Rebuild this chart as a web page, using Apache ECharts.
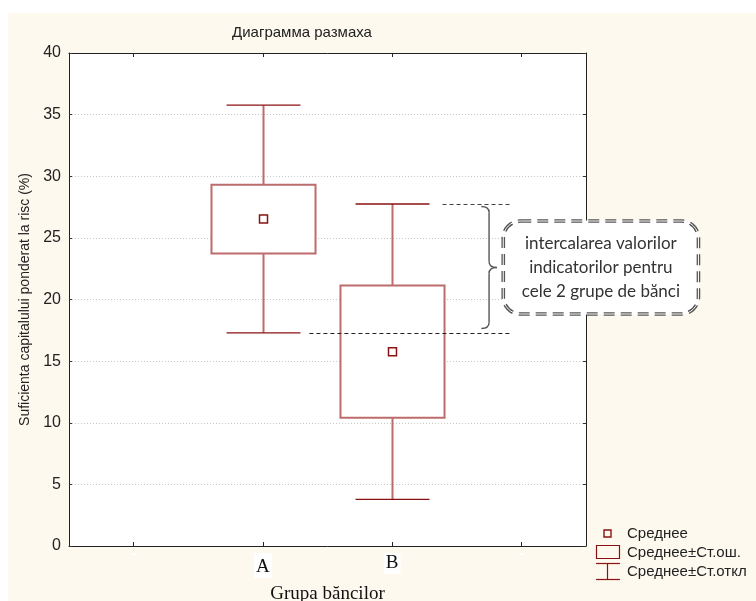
<!DOCTYPE html>
<html>
<head>
<meta charset="utf-8">
<script src="https://cdn.jsdelivr.net/npm/echarts@6/dist/echarts.min.js"></script>
<style>
  html, body { margin: 0; padding: 0; background: #fff; }
  #chart { width: 756px; height: 601px; }
</style>
</head>
<body>
<div id="chart"></div>
<script>
// Category slots on the x axis (outer slots stay empty, as in the original layout)
const categories = ['', 'A', 'B', ''];
// Bank groups and their statistics
const groups = ['A', 'B'];
const means = [26.53, 15.77];
const stdErrors = [2.79, 5.37];
const stdDevs = [9.24, 11.98];
// Value axis
const yMin = 0, yMax = 40, yStep = 5;

const titleText = 'Диаграмма размаха';
const yTitle = 'Suficienta capitalului ponderat la risc (%)';
const xTitle = 'Grupa băncilor';
const noteText = 'intercalarea valorilor\nindicatorilor pentru\ncele 2 grupe de bănci';
const legendItems = ['Среднее', 'Среднее±Ст.ош.', 'Среднее±Ст.откл'];

const DARK_RED = '#8b1212';
const SOFT_RED = '#bd6c6c';
const SANS = '"Liberation Sans", Arial, sans-serif';
const SERIF = '"Liberation Serif", "Times New Roman", serif';

const boxData = groups.map((g, i) => [categories.indexOf(g), means[i], stdErrors[i], stdDevs[i]]);

// Overlap band: from the lower whisker end of A to the upper whisker end of B
const overlapData = [[categories.indexOf('B'), means[1] + stdDevs[1], means[0] - stdDevs[0], categories.indexOf('A')]];

function renderBox(params, api) {
  const x = api.value(0), m = api.value(1), se = api.value(2), sd = api.value(3);
  const band = api.size([1, 0])[0];
  const cx = Math.round(api.coord([x, m])[0]) + 0.5;
  const yTop = api.coord([x, m + sd])[1];
  const yBot = api.coord([x, m - sd])[1];
  const yBoxTop = api.coord([x, m + se])[1];
  const yBoxBot = api.coord([x, m - se])[1];
  const ym = api.coord([x, m])[1];
  const bw = band * 0.805, cw = band * 0.572;
  const soft = { stroke: SOFT_RED, lineWidth: 2, fill: null };
  const dark = { stroke: DARK_RED, lineWidth: 1.3, fill: null };
  return {
    type: 'group',
    children: [
      { type: 'line', shape: { x1: cx, y1: yTop, x2: cx, y2: yBoxTop }, style: soft },
      { type: 'line', shape: { x1: cx, y1: yBoxBot, x2: cx, y2: yBot }, style: soft },
      { type: 'rect', shape: { x: cx - bw / 2, y: yBoxTop, width: bw, height: yBoxBot - yBoxTop }, style: { stroke: SOFT_RED, lineWidth: 2, fill: '#fff' } },
      { type: 'line', shape: { x1: cx - cw / 2, y1: yTop, x2: cx + cw / 2, y2: yTop }, style: dark },
      { type: 'line', shape: { x1: cx - cw / 2, y1: yBot, x2: cx + cw / 2, y2: yBot }, style: dark },
      { type: 'rect', shape: { x: cx - 4, y: ym - 4, width: 8, height: 8 }, style: { stroke: DARK_RED, lineWidth: 1.5, fill: '#fff' } }
    ]
  };
}

function renderOverlap(params, api) {
  const xb = api.value(0), hi = api.value(1), lo = api.value(2), xa = api.value(3);
  const band = api.size([1, 0])[0];
  const cb = api.coord([xb, hi])[0];
  const ca = api.coord([xa, lo])[0];
  const yHi = Math.round(api.coord([xb, hi])[1]) + 0.5;
  const yLo = Math.round(api.coord([xb, lo])[1]) + 0.5;
  const xEnd = cb + 0.93 * band;
  const dash = { stroke: '#222', lineWidth: 1, lineDash: [4, 3], fill: null };
  // curly brace
  const xl = cb + 0.69 * band, xs = cb + 0.75 * band, xt = cb + 0.81 * band;
  const y1 = yHi + 2, y2 = yLo - 5, ymid = (y1 + y2) / 2, r = 6;
  const brace = { stroke: '#555', lineWidth: 1.4, fill: null };
  // callout
  const bx = cb + 0.86 * band, bxe = cb + 2.37 * band;
  const bh = 93;
  const by = ymid - bh / 2;
  return {
    type: 'group',
    children: [
      { type: 'line', shape: { x1: cb + 0.39 * band, y1: yHi, x2: xEnd, y2: yHi }, style: { stroke: '#444', lineWidth: 1, lineDash: [4, 3], fill: null } },
      { type: 'line', shape: { x1: ca + 0.36 * band, y1: yLo, x2: xEnd, y2: yLo }, style: dash },
      { type: 'bezierCurve', shape: { x1: xl, y1: y1, x2: xs, y2: y1 + r, cpx1: xs, cpy1: y1 }, style: brace },
      { type: 'line', shape: { x1: xs, y1: y1 + r, x2: xs, y2: ymid - r }, style: brace },
      { type: 'bezierCurve', shape: { x1: xs, y1: ymid - r, x2: xt, y2: ymid, cpx1: xs, cpy1: ymid }, style: brace },
      { type: 'bezierCurve', shape: { x1: xt, y1: ymid, x2: xs, y2: ymid + r, cpx1: xs, cpy1: ymid }, style: brace },
      { type: 'line', shape: { x1: xs, y1: ymid + r, x2: xs, y2: y2 - r }, style: brace },
      { type: 'bezierCurve', shape: { x1: xs, y1: y2 - r, x2: xl, y2: y2, cpx1: xs, cpy1: y2 }, style: brace },
      { type: 'rect', shape: { x: bx, y: by, width: bxe - bx, height: bh, r: 17 }, style: { fill: '#fff', stroke: '#555', lineWidth: 3.6, lineDash: [11, 6] } },
      { type: 'rect', shape: { x: bx, y: by, width: bxe - bx, height: bh, r: 17 }, style: { fill: null, stroke: '#fff', lineWidth: 1 } },
      { type: 'text', style: { text: noteText, x: (bx + bxe) / 2, y: ymid, align: 'center', verticalAlign: 'middle', fontSize: 17, fontFamily: 'Lato, "Open Sans", sans-serif', lineHeight: 24, fill: '#333' } }
    ]
  };
}

const chart = echarts.init(document.getElementById('chart'), null, { renderer: 'canvas' });

const axisLine = { show: true, onZero: false, lineStyle: { color: '#222', width: 1 } };

chart.setOption({
  backgroundColor: '#fff',
  animation: false,
  grid: { left: 69, top: 53, width: 517, height: 493, show: true, backgroundColor: '#fff', borderWidth: 0, z: 0, containLabel: false, outerBoundsMode: 'none' },
  graphic: [
    { type: 'rect', z: -10, shape: { x: 8, y: 13, width: 748, height: 588 }, style: { fill: '#fdf9ee' } },
    { type: 'text', x: 302, y: 33, style: { text: titleText, align: 'center', verticalAlign: 'middle', textAlign: 'center', textVerticalAlign: 'middle', fontSize: 15, fontFamily: SANS, fill: '#222' } },
    // legend: mean
    { type: 'rect', shape: { x: 604, y: 530, width: 7, height: 7 }, style: { fill: null, stroke: DARK_RED, lineWidth: 1.4 } },
    { type: 'text', x: 627, y: 534, style: { text: legendItems[0], verticalAlign: 'middle', textVerticalAlign: 'middle', fontSize: 15, fontFamily: SANS, fill: '#222' } },
    // legend: mean ± standard error
    { type: 'rect', shape: { x: 596.5, y: 545.5, width: 23, height: 13 }, style: { fill: null, stroke: DARK_RED, lineWidth: 1.2 } },
    { type: 'text', x: 627, y: 553, style: { text: legendItems[1], verticalAlign: 'middle', textVerticalAlign: 'middle', fontSize: 15, fontFamily: SANS, fill: '#222' } },
    // legend: mean ± standard deviation
    { type: 'line', shape: { x1: 596, y1: 563.5, x2: 620, y2: 563.5 }, style: { stroke: DARK_RED, lineWidth: 1.2 } },
    { type: 'line', shape: { x1: 607.5, y1: 563.5, x2: 607.5, y2: 579.5 }, style: { stroke: DARK_RED, lineWidth: 1.2 } },
    { type: 'line', shape: { x1: 596, y1: 579.5, x2: 620, y2: 579.5 }, style: { stroke: DARK_RED, lineWidth: 1.2 } },
    { type: 'text', x: 627, y: 572, style: { text: legendItems[2], verticalAlign: 'middle', textVerticalAlign: 'middle', fontSize: 15, fontFamily: SANS, fill: '#222' } }
  ],
  xAxis: [
    {
      type: 'category',
      z: 2,
      data: categories.map(c => c === 'A'
        ? { value: c, textStyle: { padding: [5, 2, 1, 2] } }
        : c),
      position: 'bottom',
      axisLine: axisLine,
      axisTick: { show: true, inside: true, length: 4, alignWithLabel: true, lineStyle: { color: '#222' } },
      axisLabel: { show: true, margin: 7, fontSize: 19, fontFamily: SERIF, color: '#111', backgroundColor: '#fff', padding: [1, 2, 1, 2] },
      splitLine: { show: false },
      name: xTitle,
      nameLocation: 'middle',
      nameGap: 39,
      nameTextStyle: { fontSize: 19, fontFamily: SERIF, color: '#111' }
    },
    {
      type: 'category',
      z: 2,
      data: categories,
      position: 'top',
      axisLine: axisLine,
      axisTick: { show: true, inside: true, length: 4, alignWithLabel: true, lineStyle: { color: '#222' } },
      axisLabel: { show: false },
      splitLine: { show: false }
    }
  ],
  yAxis: [
    {
      type: 'value',
      z: 2,
      min: yMin, max: yMax, interval: yStep,
      position: 'left',
      axisLine: axisLine,
      axisTick: { show: true, inside: true, length: 3, lineStyle: { color: '#333' } },
      axisLabel: { margin: 8, fontSize: 16, fontFamily: SANS, color: '#222' },
      splitLine: { show: true, lineStyle: { color: '#c8c8c8', type: [1, 2], width: 1 } },
      name: yTitle,
      nameLocation: 'middle',
      nameRotate: 90,
      nameGap: 37,
      nameTextStyle: { fontSize: 14, fontFamily: SANS, color: '#222' }
    },
    {
      type: 'value',
      z: 2,
      min: yMin, max: yMax, interval: yStep,
      position: 'right',
      axisLine: axisLine,
      axisTick: { show: true, inside: true, length: 3, lineStyle: { color: '#333' } },
      axisLabel: { show: false },
      splitLine: { show: false }
    }
  ],
  series: [
    {
      type: 'custom',
      name: 'box',
      xAxisIndex: 0, yAxisIndex: 0,
      renderItem: renderBox,
      data: boxData,
      z: 3
    },
    {
      type: 'custom',
      name: 'overlap',
      xAxisIndex: 0, yAxisIndex: 0,
      renderItem: renderOverlap,
      data: overlapData,
      clip: false,
      z: 5
    }
  ]
});
</script>
</body>
</html>
